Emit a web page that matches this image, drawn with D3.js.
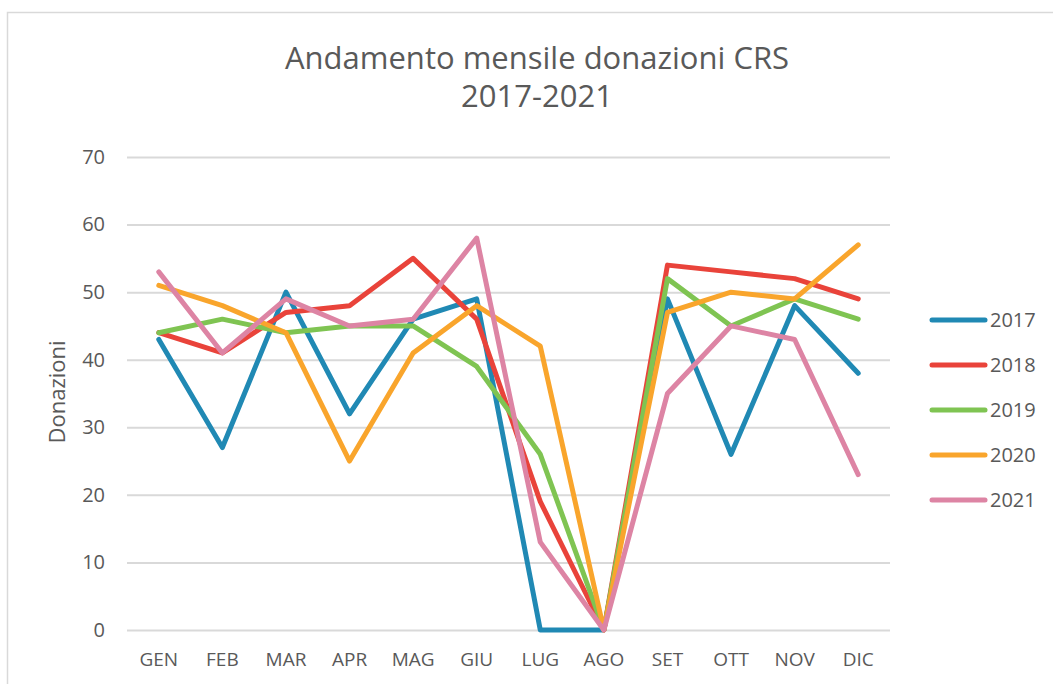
<!DOCTYPE html>
<html>
<head>
<meta charset="utf-8">
<script src="https://cdn.jsdelivr.net/npm/d3@7"></script>
<style>
  body { margin: 0; background: #fff; }
  text { font-family: "Open Sans", sans-serif; fill: #595959; }
</style>
</head>
<body>
<div id="chart"></div>
<script>
// data
var months = ["GEN", "FEB", "MAR", "APR", "MAG", "GIU", "LUG", "AGO", "SET", "OTT", "NOV", "DIC"];
var years = ["2017", "2018", "2019", "2020", "2021"];
var values2017 = [43, 27, 50, 32, 46, 49, 0, 0, 49, 26, 48, 38];
var values2018 = [44, 41, 47, 48, 55, 46, 19, 0, 54, 53, 52, 49];
var values2019 = [44, 46, 44, 45, 45, 39, 26, 0, 52, 45, 49, 46];
var values2020 = [51, 48, 44, 25, 41, 48, 42, 0, 47, 50, 49, 57];
var values2021 = [53, 41, 49, 45, 46, 58, 13, 0, 35, 45, 43, 23];
var yTicks = [0, 10, 20, 30, 40, 50, 60, 70];
var colors = ["#2089b4", "#e9433a", "#7fc452", "#f9a52c", "#dd84a4"];

var series = [values2017, values2018, values2019, values2020, values2021].map(function(v, i) {
    return { name: years[i], values: v, color: colors[i] };
});

var svgWidth = 1053;
var svgHeight = 684;

var margin = { top: 157, right: 163, bottom: 54, left: 127 };
var width = svgWidth - margin.left - margin.right;
var height = svgHeight - margin.top - margin.bottom;

var svg = d3.select("#chart")
    .append("svg")
    .attr("width", svgWidth)
    .attr("height", svgHeight);

// outer frame
svg.append("rect")
    .attr("x", 7.5)
    .attr("y", 12.5)
    .attr("width", svgWidth)
    .attr("height", svgHeight)
    .attr("fill", "none")
    .attr("stroke", "#d9d9d9")
    .attr("stroke-width", 1.5);

svg.append("text")
    .attr("x", 537)
    .attr("y", 69)
    .attr("text-anchor", "middle")
    .style("font-size", "31px")
    .text("Andamento mensile donazioni CRS");

svg.append("text")
    .attr("x", 537)
    .attr("y", 107)
    .attr("text-anchor", "middle")
    .style("font-size", "31px")
    .text("2017-2021");

var chartGroup = svg.append("g")
    .attr("transform", `translate(${margin.left}, ${margin.top})`);

var xScale = d3.scaleBand()
    .domain(months)
    .range([0, width]);

var yScale = d3.scaleLinear()
    .domain([0, 70])
    .range([height, 0]);

// gridlines + y tick labels
var leftAxis = d3.axisLeft(yScale)
    .tickValues(yTicks)
    .tickSize(-width)
    .tickPadding(22);

var yAxisG = chartGroup.append("g").call(leftAxis);
yAxisG.select(".domain").remove();
yAxisG.selectAll(".tick line")
    .attr("stroke", "#d9d9d9")
    .attr("stroke-width", 2);
yAxisG.selectAll(".tick text")
    .style("font-size", "20px")
    .style("font-family", "'Open Sans', sans-serif")
    .attr("fill", "#595959");

var bottomAxis = d3.axisBottom(xScale)
    .tickSize(0)
    .tickPadding(23);

var xAxisG = chartGroup.append("g")
    .attr("transform", `translate(0, ${height})`)
    .call(bottomAxis);
xAxisG.select(".domain").remove();
xAxisG.selectAll(".tick text")
    .style("font-size", "19px")
    .style("font-family", "'Open Sans', sans-serif")
    .attr("fill", "#595959");

var line = d3.line()
    .x(function(d, i) { return xScale(months[i]) + xScale.bandwidth() / 2; })
    .y(function(d) { return yScale(d); });

chartGroup.selectAll(".series")
    .data(series)
    .enter()
    .append("path")
    .attr("class", "series")
    .attr("d", d => line(d.values))
    .attr("fill", "none")
    .attr("stroke", d => d.color)
    .attr("stroke-width", 5)
    .attr("stroke-linejoin", "round")
    .attr("stroke-linecap", "round");

// y axis title
svg.append("text")
    .attr("transform", "translate(65, 392) rotate(-90)")
    .attr("text-anchor", "middle")
    .style("font-size", "22px")
    .text("Donazioni");

// legend
var legend = svg.selectAll(".legend")
    .data(series)
    .enter()
    .append("g")
    .attr("class", "legend")
    .attr("transform", (d, i) => `translate(930, ${320 + i * 45})`);

legend.append("line")
    .attr("x1", 2)
    .attr("x2", 55)
    .attr("stroke", d => d.color)
    .attr("stroke-width", 5)
    .attr("stroke-linecap", "round");

legend.append("text")
    .attr("x", 60)
    .attr("dy", "0.36em")
    .style("font-size", "20px")
    .text(d => d.name);
</script>
</body>
</html>
